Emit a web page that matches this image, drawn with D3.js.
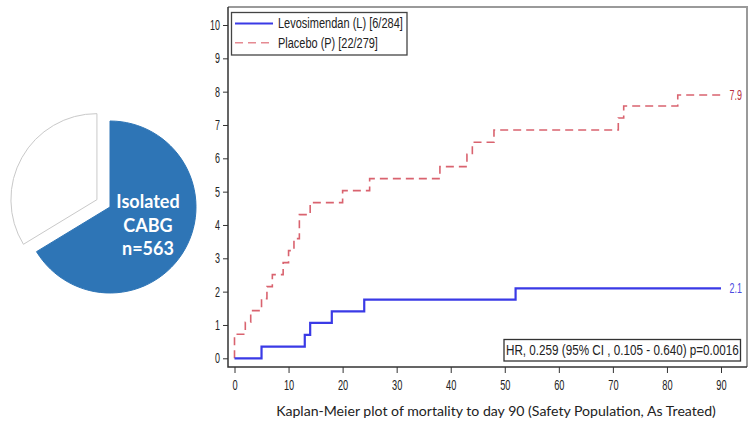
<!DOCTYPE html>
<html>
<head>
<meta charset="utf-8">
<script src="https://cdn.jsdelivr.net/npm/d3@7"></script>
<style>
  html, body { margin: 0; padding: 0; background: #fff; }
  svg { display: block; }
  .narrow { font-family: "Liberation Sans", Arial, sans-serif; }
</style>
</head>
<body>
<svg id="chart" width="750" height="427"></svg>
<script>
// Population split (treated patients)
const pieLabels = ["Isolated CABG", "Other"];
const pieValues = [563, 286];

// Kaplan-Meier cumulative mortality (%), event days and levels
const levoDays   = [5, 13, 14, 18, 24, 52];
const levoValues = [0.35, 0.70, 1.06, 1.41, 1.76, 2.1];
const placeboDays   = [0, 2, 3, 5, 6, 7, 9, 10, 11, 12, 14, 20, 25, 38, 43, 44, 48, 71, 72, 82];
const placeboValues = [0.72, 1.08, 1.43, 1.79, 2.15, 2.51, 2.87, 3.23, 3.59, 4.31, 4.67, 5.03, 5.39, 5.75, 6.12, 6.48, 6.85, 7.21, 7.57, 7.9];
const followUpEnd = 90;

const xTicks = [0, 10, 20, 30, 40, 50, 60, 70, 80, 90];
const yTicks = [0, 1, 2, 3, 4, 5, 6, 7, 8, 9, 10];

const seriesNames = ["Levosimendan (L) [6/284]", "Placebo (P) [22/279]"];
const hrText = "HR, 0.259 (95% CI , 0.105 - 0.640) p=0.0016";
const caption = "Kaplan-Meier plot of mortality to day 90 (Safety Population, As Treated)";

const svg = d3.select("#chart");

// Condense text horizontally around its anchor x (narrow report font look)
function squeeze(sel, factor) {
  sel.each(function () {
    const ax = +(this.getAttribute("x") || 0);
    d3.select(this).attr("transform", `translate(${ax * (1 - factor)},0) scale(${factor},1)`);
  });
}
function fitWidth(sel, width) {
  sel.each(function () {
    const w = this.getComputedTextLength();
    squeeze(d3.select(this), width / w);
  });
}

// ---------- Pie ----------
const pieCx = 110, pieCy = 207, pieR = 86, explode = 15;
const pie = d3.pie().sort(null).value(d => d)(pieValues);
const arc = d3.arc().innerRadius(0).outerRadius(pieR);
const pieG = svg.append("g").attr("transform", `translate(${pieCx},${pieCy})`);
pie.forEach((p, i) => {
  const mid = (p.startAngle + p.endAngle) / 2;
  const off = i === 1 ? explode : 0;
  pieG.append("path")
    .attr("d", arc(p))
    .attr("transform", `translate(${Math.sin(mid) * off},${-Math.cos(mid) * off})`)
    .attr("fill", i === 0 ? "#2e75b6" : "#ffffff")
    .attr("stroke", i === 0 ? "#2e75b6" : "#c9c9c9")
    .attr("stroke-width", 1);
});
const pieText = svg.append("text")
  .attr("font-family", "Lato, 'Open Sans', sans-serif")
  .attr("font-weight", "bold")
  .attr("font-size", 18)
  .attr("fill", "#ffffff")
  .attr("text-anchor", "middle");
[["Isolated", 207.5], ["CABG", 231.5], ["n=" + pieValues[0], 255]].forEach(([t, yy]) => {
  pieText.append("tspan").attr("x", 148).attr("y", yy).text(t);
});

// ---------- KM plot ----------
const x = d3.scaleLinear().domain([0, 90]).range([234.5, 721]);
const y = d3.scaleLinear().domain([0, 10]).range([358.3, 25]);
const frame = { left: 228, top: 7, right: 747, bottom: 367 };

// outer frame (top/right lighter)
svg.append("path")
  .attr("d", `M${frame.left},${frame.top}H${frame.right}V${frame.bottom}`)
  .attr("fill", "none").attr("stroke", "#9a9a9a").attr("stroke-width", 2);

// y axis
const yAxis = svg.append("g")
  .attr("class", "narrow")
  .attr("transform", `translate(${frame.left},0)`)
  .call(d3.axisLeft(y).tickValues(yTicks).tickSize(5).tickPadding(3).tickSizeOuter(0));
yAxis.select(".domain").remove();
yAxis.selectAll("text").attr("font-size", 14).attr("font-family", "Liberation Sans, Arial, sans-serif").attr("fill", "#222");
yAxis.selectAll("line").attr("stroke", "#333");
squeeze(yAxis.selectAll("text"), 0.64);

// x axis
const xAxis = svg.append("g")
  .attr("class", "narrow")
  .attr("transform", `translate(0,${frame.bottom})`)
  .call(d3.axisBottom(x).tickValues(xTicks).tickSize(6).tickPadding(7).tickSizeOuter(0));
xAxis.select(".domain").remove();
xAxis.selectAll("text").attr("font-size", 14).attr("font-family", "Liberation Sans, Arial, sans-serif").attr("fill", "#222");
xAxis.selectAll("line").attr("stroke", "#333");
squeeze(xAxis.selectAll("text"), 0.66);

svg.append("path")
  .attr("d", `M${frame.left},${frame.top}V${frame.bottom}H${frame.right}`)
  .attr("fill", "none").attr("stroke", "#333").attr("stroke-width", 1.5);

// step curves
const stepLine = d3.line().x(d => x(d[0])).y(d => y(d[1])).curve(d3.curveStepAfter);
function kmPoints(days, values) {
  const pts = [[0, 0]];
  days.forEach((d, i) => pts.push([d, values[i]]));
  pts.push([followUpEnd, values[values.length - 1]]);
  return pts;
}
const placeboPts = kmPoints(placeboDays, placeboValues);
const levoPts = kmPoints(levoDays, levoValues);

svg.append("path")
  .attr("d", stepLine(placeboPts))
  .attr("fill", "none").attr("stroke", "#d9636f").attr("stroke-width", 1.6)
  .attr("stroke-dasharray", "8,5");
svg.append("path")
  .attr("d", stepLine(levoPts))
  .attr("fill", "none").attr("stroke", "#3a3ae6").attr("stroke-width", 2.2);

// end labels
const endP = svg.append("text").attr("class", "narrow")
  .attr("x", x(followUpEnd) + 8.5).attr("y", y(placeboValues[placeboValues.length - 1]) + 5)
  .attr("font-size", 14).attr("fill", "#b8303f")
  .text(placeboValues[placeboValues.length - 1].toFixed(1));
const endL = svg.append("text").attr("class", "narrow")
  .attr("x", x(followUpEnd) + 8.5).attr("y", y(levoValues[levoValues.length - 1]) + 5)
  .attr("font-size", 14).attr("fill", "#4b4be0")
  .text(levoValues[levoValues.length - 1].toFixed(1));
squeeze(endP, 0.64);
squeeze(endL, 0.64);

// legend
const lg = svg.append("g").attr("class", "narrow");
lg.append("rect").attr("x", 231.5).attr("y", 12.5).attr("width", 175.5).attr("height", 42.5)
  .attr("fill", "#fff").attr("stroke", "#444").attr("stroke-width", 1.3);
const legendStyles = [
  { stroke: "#3a3ae6", dash: null, w: 2.2, width: 125 },
  { stroke: "#e58a92", dash: "8,5", w: 1.6, width: 100 }
];
seriesNames.forEach((name, i) => {
  const ly = 23.5 + i * 19.3;
  lg.append("line").attr("x1", 235).attr("x2", 273).attr("y1", ly).attr("y2", ly)
    .attr("stroke", legendStyles[i].stroke).attr("stroke-width", legendStyles[i].w)
    .attr("stroke-dasharray", legendStyles[i].dash);
  const t = lg.append("text").attr("x", 278).attr("y", ly + 5).attr("font-size", 14.5)
    .attr("fill", "#222").text(name);
  fitWidth(t, legendStyles[i].width);
});

// hazard ratio box
const hr = svg.append("g").attr("class", "narrow");
hr.append("rect").attr("x", 504).attr("y", 339.5).attr("width", 236.5).attr("height", 21.5)
  .attr("fill", "#fff").attr("stroke", "#333").attr("stroke-width", 1.3);
const hrT = hr.append("text").attr("x", 506).attr("y", 355.5).attr("font-size", 15.5).attr("fill", "#222").text(hrText);
fitWidth(hrT, 233);

// caption
svg.append("text")
  .attr("x", 496).attr("y", 416)
  .attr("text-anchor", "middle")
  .attr("font-family", "Lato, 'Open Sans', sans-serif")
  .attr("font-size", 14.1)
  .attr("fill", "#222")
  .text(caption);
</script>
</body>
</html>
